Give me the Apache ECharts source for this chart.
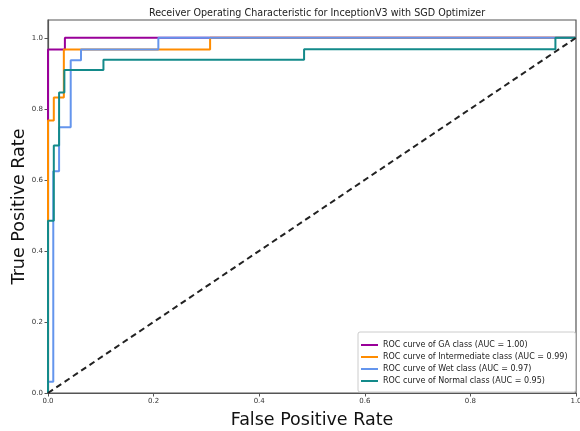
<!DOCTYPE html>
<html>
<head>
<meta charset="utf-8">
<script src="https://cdn.jsdelivr.net/npm/echarts@6/dist/echarts.min.js"></script>
<style>html,body{margin:0;padding:0;background:#fff}#c{width:580px;height:431px}</style>
</head>
<body>
<div id="c"></div>
<script>
const titleText = 'Receiver Operating Characteristic for InceptionV3 with SGD Optimizer';
const seriesNames = [
  'ROC curve of GA class (AUC = 1.00)',
  'ROC curve of Intermediate class (AUC = 0.99)',
  'ROC curve of Wet class (AUC = 0.97)',
  'ROC curve of Normal class (AUC = 0.95)'
];
const seriesColors = ['#990099', '#ff8c00', '#6495ed', '#138a8a'];
const xTicks = [0, 0.2, 0.4, 0.6, 0.8, 1.0];
const yTicks = [0, 0.2, 0.4, 0.6, 0.8, 1.0];

const gaFpr = [0, 0, 0.032, 0.032, 1];
const gaTpr = [0, 0.967, 0.967, 1, 1];

const intFpr = [0, 0, 0.011, 0.011, 0.030, 0.030, 0.307, 0.307, 1];
const intTpr = [0, 0.767, 0.767, 0.832, 0.832, 0.967, 0.967, 1, 1];

const wetFpr = [0, 0, 0.010, 0.010, 0.021, 0.021, 0.043, 0.043, 0.0625, 0.0625, 0.209, 0.209, 1];
const wetTpr = [0, 0.032, 0.032, 0.624, 0.624, 0.748, 0.748, 0.937, 0.937, 0.967, 0.967, 1, 1];

const norFpr = [0, 0, 0.011, 0.011, 0.021, 0.021, 0.031, 0.031, 0.105, 0.105, 0.485, 0.485, 0.961, 0.961, 1];
const norTpr = [0, 0.485, 0.485, 0.697, 0.697, 0.846, 0.846, 0.909, 0.909, 0.938, 0.938, 0.968, 0.968, 1, 1];

const chanceFpr = [0, 1];
const chanceTpr = [0, 1];

const curves = [[gaFpr, gaTpr], [intFpr, intTpr], [wetFpr, wetTpr], [norFpr, norTpr]];
const zip = (a, b) => a.map((v, i) => [v, b[i]]);

const series = curves.map((c, i) => ({
  name: seriesNames[i],
  type: 'line',
  data: zip(c[0], c[1]),
  symbol: 'none',
  lineStyle: { color: seriesColors[i], width: 2 },
  itemStyle: { color: seriesColors[i] },
  z: 2 + i
}));
series.push({
  name: 'chance',
  type: 'line',
  data: zip(chanceFpr, chanceTpr),
  symbol: 'none',
  lineStyle: { color: '#222', width: 2, type: [6, 4] },
  z: 10
});

const chart = echarts.init(document.getElementById('c'), null, { renderer: 'canvas' });
chart.setOption({
  animation: false,
  backgroundColor: '#fff',
  textStyle: { fontFamily: 'DejaVu Sans' },
  title: {
    text: titleText,
    left: 312, top: 3, textAlign: 'center',
    textStyle: { fontSize: 9.6, fontWeight: 'normal', color: '#222', fontFamily: 'DejaVu Sans' }
  },
  grid: { left: 48, right: 4, top: 20, bottom: 38, show: true, borderColor: '#555', borderWidth: 1.2,
    backgroundColor: 'transparent', containLabel: false, outerBoundsMode: 'none' },
  legend: {
    data: seriesNames,
    orient: 'vertical',
    left: 358, top: 332,
    icon: 'rect', itemWidth: 17, itemHeight: 2, itemGap: 4, itemTextGap: 7,
    padding: [9, 8, 7, 3],
    backgroundColor: '#fff', borderColor: '#ccc', borderWidth: 1, borderRadius: 2,
    textStyle: { fontSize: 8, color: '#222', fontFamily: 'DejaVu Sans' }
  },
  xAxis: {
    type: 'value', min: 0, max: 1, interval: 0.2,
    name: 'False Positive Rate', nameLocation: 'middle', nameGap: 18,
    nameTextStyle: { fontSize: 17.5, color: '#111', fontFamily: 'DejaVu Sans' },
    axisLine: { show: true, lineStyle: { color: '#555', width: 1.2 } },
    axisTick: { show: true, length: 3.5, lineStyle: { color: '#555' } },
    axisLabel: { fontSize: 7, color: '#333', margin: 5, formatter: v => v.toFixed(1) },
    splitLine: { show: false }
  },
  yAxis: {
    type: 'value', min: 0, max: 1.05, interval: 0.2,
    name: 'True Positive Rate', nameLocation: 'middle', nameGap: 20, nameMoveOverlap: false,
    nameTextStyle: { fontSize: 17.5, color: '#111', fontFamily: 'DejaVu Sans' },
    axisLine: { show: true, lineStyle: { color: '#555', width: 1.2 } },
    axisTick: { show: true, length: 3.5, lineStyle: { color: '#555' } },
    axisLabel: { fontSize: 7, color: '#333', margin: 5, showMaxLabel: false,
      formatter: v => (yTicks.some(t => Math.abs(t - v) < 1e-6) ? v.toFixed(1) : '') },
    splitLine: { show: false }
  },
  series: series
});
</script>
</body>
</html>
